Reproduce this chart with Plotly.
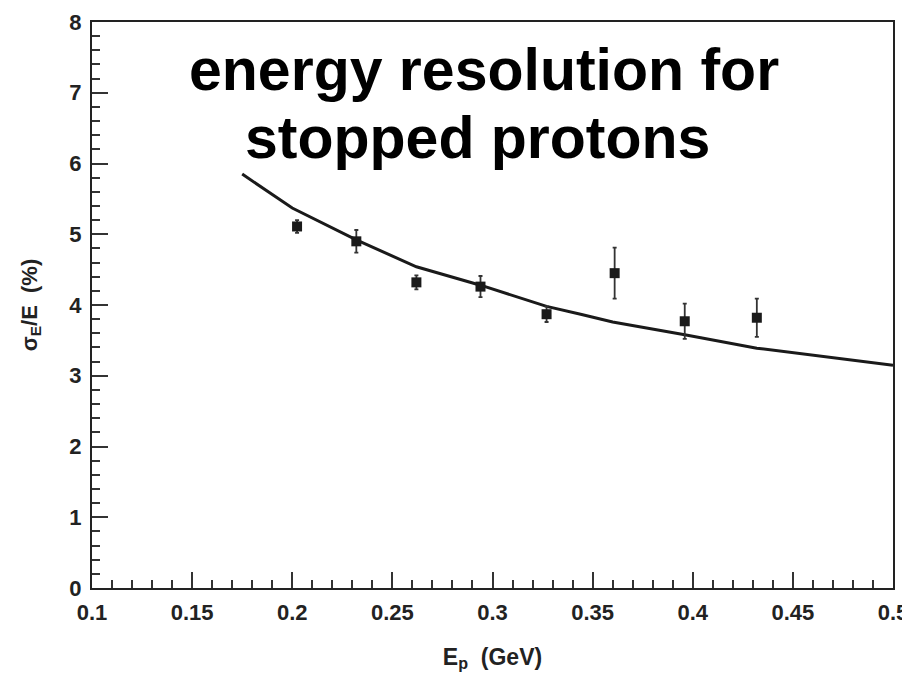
import plotly.graph_objects as go

# Data points
energy_gev = [0.2024, 0.232, 0.262, 0.294, 0.327, 0.361, 0.396, 0.432]
resolution_pct = [5.11, 4.90, 4.32, 4.26, 3.87, 4.45, 3.77, 3.82]
resolution_err = [0.09, 0.16, 0.10, 0.15, 0.11, 0.36, 0.25, 0.27]

# Fit curve
curve_x = [0.175, 0.2, 0.232, 0.262, 0.294, 0.327, 0.344, 0.36, 0.396, 0.432, 0.5]
curve_y = [5.85, 5.37, 4.92, 4.54, 4.28, 3.98, 3.87, 3.76, 3.58, 3.39, 3.15]

x_ticks = [0.1, 0.15, 0.2, 0.25, 0.3, 0.35, 0.4, 0.45, 0.5]
x_tick_text = ["0.1", "0.15", "0.2", "0.25", "0.3", "0.35", "0.4", "0.45", "0.5"]
y_ticks = [0, 1, 2, 3, 4, 5, 6, 7, 8]

title_lines = ["energy resolution for", "stopped protons"]

FONT = "Liberation Sans, Arial, sans-serif"

fig = go.Figure()
fig.add_trace(go.Scatter(
    x=curve_x, y=curve_y, mode="lines",
    line=dict(color="#1a1a1a", width=3),
    showlegend=False, hoverinfo="skip",
))
fig.add_trace(go.Scatter(
    x=energy_gev, y=resolution_pct, mode="markers",
    marker=dict(symbol="square", size=10, color="#1a1a1a"),
    error_y=dict(type="data", array=resolution_err, color="#333333", thickness=1.8, width=2),
    showlegend=False,
))

for text, xp, yp in zip(title_lines, [0.49, 0.481], [0.915, 0.795]):
    fig.add_annotation(
        x=xp, xref="paper", y=yp, yref="paper", xanchor="center", yanchor="middle",
        text=f"<b>{text}</b>", showarrow=False,
        font=dict(family=FONT, size=59, color="black"),
    )

axis_common = dict(
    showline=True, linecolor="#222222", linewidth=2, mirror=True,
    showgrid=False, zeroline=False, automargin=False,
    ticks="inside", tickcolor="#333333", tickwidth=1.5,
    tickfont=dict(family=FONT, size=22, color="#222222", weight="bold"),
)

fig.update_xaxes(
    range=[0.1, 0.5], tickvals=x_ticks, ticktext=x_tick_text, ticklen=16, ticklabelstandoff=4,
    minor=dict(dtick=0.01, tick0=0.1, ticklen=8, ticks="inside", tickcolor="#333333", tickwidth=1.5),
    title=dict(text="<b>E<sub>p</sub>  (GeV)</b>", font=dict(family=FONT, size=23, color="#222222"), standoff=24),
    **axis_common,
)
fig.update_yaxes(
    range=[0, 8], tickvals=y_ticks, ticklen=16, ticklabelstandoff=4,
    minor=dict(dtick=0.2, tick0=0, ticklen=8, ticks="inside", tickcolor="#333333", tickwidth=1.5),
    title=dict(text="<b>σ<sub>E</sub>/E  (%)</b>", font=dict(family=FONT, size=22, color="#222222"), standoff=26),
    **axis_common,
)

# The page adds an 8px body margin, so the figure is sized and offset to compensate.
fig.update_layout(
    width=902, height=672,
    margin=dict(l=84, r=17, t=14, b=92),
    paper_bgcolor="white", plot_bgcolor="white",
)

fig.write_html("out.html")
